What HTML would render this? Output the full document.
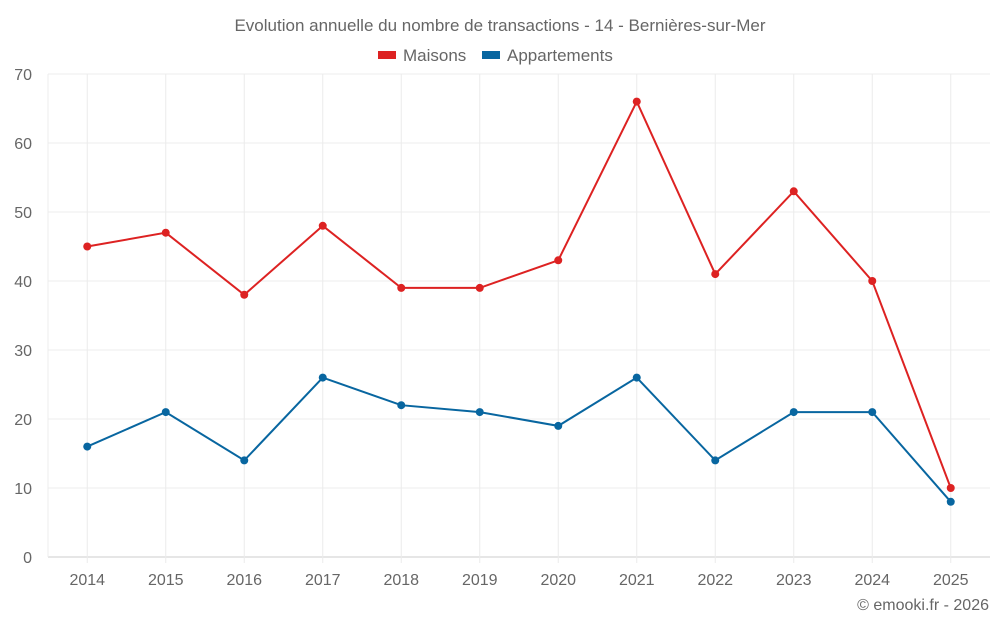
<!DOCTYPE html>
<html><head><meta charset="utf-8"><style>
body{margin:0;background:#fff;font-family:"Liberation Sans",Roboto,sans-serif}
svg text{font-family:"Liberation Sans",sans-serif;fill:#666}
</style></head><body>
<svg id="c" width="1000" height="625">
<text x="500" y="31" text-anchor="middle" font-size="17">Evolution annuelle du nombre de transactions - 14 - Bernières-sur-Mer</text>
<g>
<g><rect x="378" y="51" width="18" height="8" fill="#dd2222"/><text x="403" y="61" font-size="17">Maisons</text></g>
<g><rect x="482" y="51" width="18" height="8" fill="#0866a0"/><text x="507" y="61" font-size="17">Appartements</text></g>
</g>
<g id="grid"></g>
<g id="axes"></g>
<g id="series"></g>
<text x="989" y="610" text-anchor="end" font-size="16">© emooki.fr - 2026</text>
</svg>
<script>
const years=["2014","2015","2016","2017","2018","2019","2020","2021","2022","2023","2024","2025"];
const maisons=[45,47,38,48,39,39,43,66,41,53,40,10];
const appartements=[16,21,14,26,22,21,19,26,14,21,21,8];
const yTicks=[0,10,20,30,40,50,60,70];
const L=48,R=990,T=74,B=557,yMax=70;
const bw=(R-L)/years.length;
const x=i=>L+bw*(i+0.5);
const y=v=>B-(v/yMax)*(B-T);
const NS="http://www.w3.org/2000/svg";
function mk(t,a,p){const e=document.createElementNS(NS,t);for(const k in a)e.setAttribute(k,a[k]);p.appendChild(e);return e;}
const g=document.getElementById('grid'),ax=document.getElementById('axes'),s=document.getElementById('series');
yTicks.forEach(v=>{
 const l=mk('line',{x1:L,x2:R,y1:y(v),y2:y(v),stroke:v===0?'#ccc':'#ececec'},g);
 
 
 const t=mk('text',{x:32,y:y(v)+6,'text-anchor':'end','font-size':16},ax);t.textContent=v;
 
 
});
const l0=mk('line',{x1:L,x2:L,y1:T,y2:B,stroke:'#ececec'},g);


years.forEach((yr,i)=>{
 const l=mk('line',{x1:x(i),x2:x(i),y1:T,y2:B+6,stroke:'#ececec'},g);
 
 
 const t=mk('text',{x:x(i),y:585,'text-anchor':'middle','font-size':16},ax);t.textContent=yr;
 
 
});
[[maisons,'#dd2222','maisons'],[appartements,'#0866a0','appartements']].forEach(([d,c,n])=>{
 const p=mk('polyline',{points:d.map((v,i)=>x(i)+','+y(v)).join(' '),fill:'none',stroke:c,'stroke-width':2},s);
 
 
 d.forEach((v,i)=>{
  const ci=mk('circle',{cx:x(i),cy:y(v),r:4,fill:c},s);
  
  
 });
});
</script>
</body></html>
